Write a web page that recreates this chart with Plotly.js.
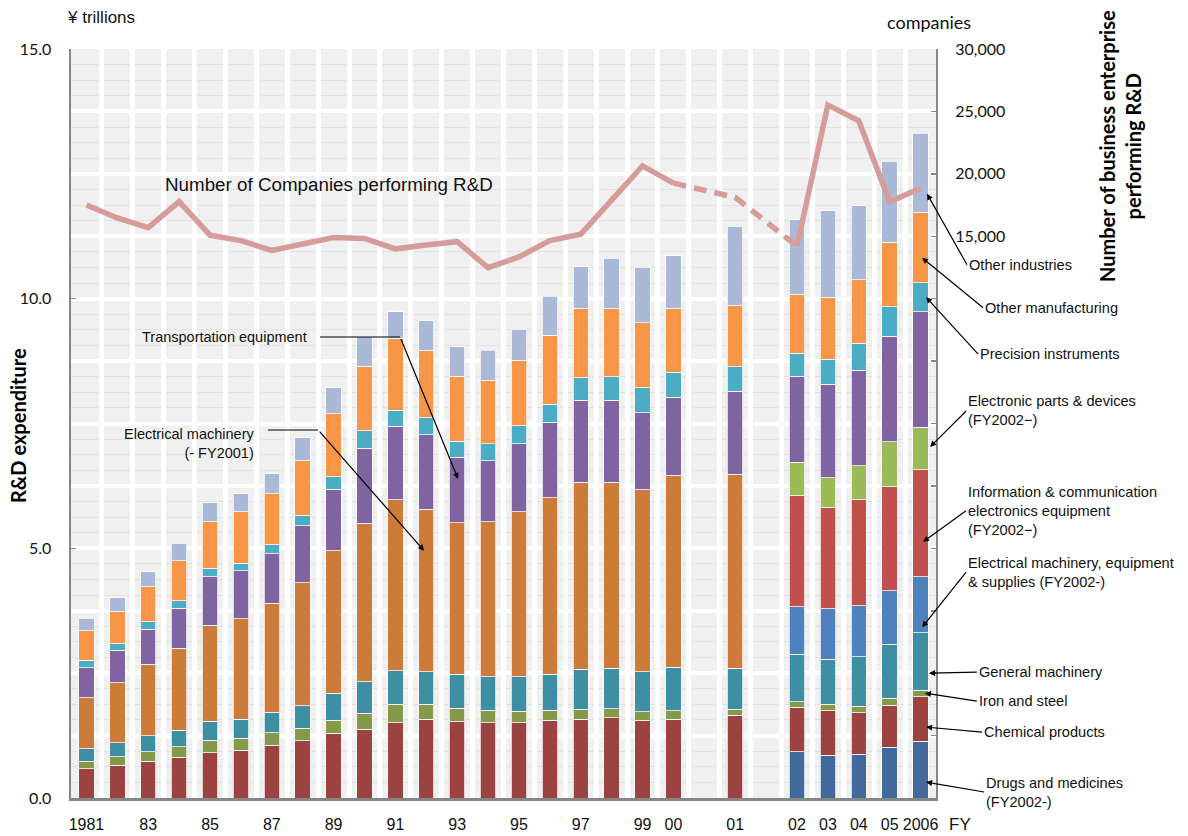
<!DOCTYPE html>
<html>
<head>
<meta charset="utf-8">
<script src="https://cdn.plot.ly/plotly-3.0.1.min.js"></script>
<style>html,body{margin:0;padding:0;background:#fff;}#chart{width:1188px;height:836px;}</style>
</head>
<body>
<div id="chart"></div>
<script>
// ---- categories (x axis), including two empty gap slots ----
const categories = ['1981','1982','1983','1984','1985','1986','1987','1988','1989','1990',
  '1991','1992','1993','1994','1995','1996','1997','1998','1999','2000','gapA','2001','gapB',
  '2002','2003','2004','2005','2006'];
const tickLabels = ['1981','','83','','85','','87','','89','','91','','93','','95','','97','','99','00',
  '','01','','02','03','04','05','2006'];
const years = ['1981','1982','1983','1984','1985','1986','1987','1988','1989','1990',
  '1991','1992','1993','1994','1995','1996','1997','1998','1999','2000','2001',
  '2002','2003','2004','2005','2006'];

// ---- R&D expenditure by industry (¥ trillions) ----
const N = null;
const drugs      = [N,N,N,N,N,N,N,N,N,N,N,N,N,N,N,N,N,N,N,N,N, 0.93,0.86,0.88,1.02,1.14];
const chemical   = [0.59,0.66,0.74,0.82,0.91,0.96,1.06,1.15,1.30,1.38,1.51,1.58,1.53,1.51,1.51,1.56,1.58,1.61,1.56,1.58,1.66, 0.89,0.89,0.83,0.84,0.89];
const ironSteel  = [0.15,0.17,0.19,0.21,0.25,0.24,0.25,0.25,0.26,0.32,0.37,0.30,0.27,0.25,0.23,0.20,0.20,0.18,0.17,0.17,0.12, 0.11,0.13,0.13,0.14,0.13];
const generalMach= [0.25,0.28,0.32,0.33,0.38,0.38,0.41,0.45,0.54,0.63,0.67,0.65,0.68,0.67,0.69,0.72,0.80,0.81,0.80,0.87,0.82, 0.95,0.90,0.99,1.08,1.15];
const elecOld    = [1.02,1.20,1.43,1.64,1.92,2.01,2.18,2.46,2.85,3.17,3.42,3.25,3.03,3.10,3.30,3.53,3.74,3.72,3.64,3.84,3.88, N,N,N,N,N];
const elecNew    = [N,N,N,N,N,N,N,N,N,N,N,N,N,N,N,N,N,N,N,N,N, 0.95,1.01,1.02,1.07,1.12];
const infoComm   = [N,N,N,N,N,N,N,N,N,N,N,N,N,N,N,N,N,N,N,N,N, 2.22,2.03,2.12,2.08,2.14];
const elecParts  = [N,N,N,N,N,N,N,N,N,N,N,N,N,N,N,N,N,N,N,N,N, 0.67,0.59,0.68,0.90,0.85];
const transport  = [0.60,0.65,0.70,0.80,0.97,0.96,0.99,1.14,1.23,1.50,1.48,1.49,1.31,1.22,1.36,1.52,1.65,1.65,1.55,1.57,1.67, 1.73,1.88,1.92,2.12,2.32];
const precision  = [0.15,0.13,0.15,0.15,0.17,0.15,0.18,0.20,0.25,0.35,0.32,0.35,0.32,0.34,0.37,0.36,0.45,0.47,0.50,0.50,0.49, 0.46,0.50,0.54,0.59,0.58];
const otherMfg   = [0.59,0.65,0.70,0.80,0.93,1.03,1.02,1.10,1.27,1.30,1.44,1.35,1.31,1.28,1.31,1.38,1.39,1.37,1.30,1.28,1.23, 1.18,1.24,1.27,1.29,1.41];
const otherInd   = [0.25,0.27,0.30,0.35,0.38,0.36,0.40,0.46,0.52,0.59,0.53,0.59,0.59,0.60,0.62,0.78,0.83,1.00,1.11,1.05,1.58, 1.49,1.73,1.48,1.62,1.58];

// ---- Number of companies performing R&D ----
const companies = [17508,16466,15688,17772,15088,14647,13862,14383,14904,14824,13991,14303,14567,12484,13342,14647,15168,17900,20633,19254,18117,14214,25513,24255,17764,18838];
// years where the line is drawn dashed (method change)
const dashedYears = ['2000','2001','2002'];

const seriesNames = ['Drugs and medicines (FY2002-)','Chemical products','Iron and steel','General machinery',
  'Electrical machinery (- FY2001)','Electrical machinery, equipment & supplies (FY2002-)',
  'Information & communication electronics equipment (FY2002−)','Electronic parts & devices (FY2002−)',
  'Transportation equipment','Precision instruments','Other manufacturing','Other industries'];
const seriesValues = [drugs,chemical,ironSteel,generalMach,elecOld,elecNew,infoComm,elecParts,transport,precision,otherMfg,otherInd];
const seriesColors = ['#41699b','#9c4241','#84994a','#3e8ea4','#cc7b38','#4f81bd','#c0504d','#9bbb59','#8064a2','#4bacc6','#f79646','#aab9d7'];

const NARROW = '"Liberation Sans Narrow","Arial Narrow","Liberation Sans",Arial,sans-serif';
const CAL = 'Lato, "Open Sans", sans-serif';

const traces = seriesValues.map((vals, i) => ({
  type: 'bar', name: seriesNames[i], x: years, y: vals,
  marker: {color: seriesColors[i], line: {color: 'rgba(255,255,255,0.75)', width: 1}},
  xaxis: 'x', yaxis: 'y', hoverinfo: 'x+y+name'
}));

// solid line: break at 2001
const solidY = years.map((yr, i) => dashedYears.indexOf(yr) === 1 ? null : companies[i]);
traces.push({type: 'scatter', mode: 'lines', x: years, y: solidY, xaxis: 'x', yaxis: 'y2',
  line: {color: '#d59c9a', width: 5.5}, connectgaps: false, name: 'Number of Companies performing R&D'});
traces.push({type: 'scatter', mode: 'lines', x: dashedYears,
  y: dashedYears.map(yr => companies[years.indexOf(yr)]), xaxis: 'x', yaxis: 'y2',
  line: {color: '#d59c9a', width: 5.5, dash: '13px,8px'}, name: 'companies (dashed)'});

// right-axis ticks
const rightVals = [], rightText = [];
for (let v = -30000; v <= 30000; v += 5000) {
  rightVals.push(v);
  rightText.push(v >= 15000 ? v.toLocaleString('en-US') : '');
}

// annotations on right pointing to FY2006 bar
const arrowCommon = {xref: 'x', yref: 'y', showarrow: true, arrowhead: 2, arrowsize: 1, arrowwidth: 1.2,
  arrowcolor: '#000', xanchor: 'left', align: 'left', font: {family: NARROW, size: 14.6, color: '#111'}};
const rightNotes = [
  ['Other industries', 27.21, 12.10, 40, 71],
  ['Other manufacturing', 27.05, 10.82, 61, 50],
  ['Precision instruments', 27.18, 10.03, 52, 57],
  ['Electronic parts & devices<br>(FY2002−)', 27.31, 7.03, 36, -36],
  ['Information & communication<br>electronics equipment<br>(FY2002−)', 27.08, 5.13, 43, -31],
  ['Electrical machinery, equipment<br>& supplies (FY2002-)', 27.05, 3.42, 44, -55],
  ['General machinery', 27.27, 2.50, 48, -1],
  ['Iron and steel', 27.14, 2.10, 52, 8],
  ['Chemical products', 27.18, 1.42, 56, 5],
  ['Drugs and medicines<br>(FY2002-)', 27.18, 0.32, 58, 10]
];
const annotations = rightNotes.map(n => Object.assign({}, arrowCommon, {text: n[0], x: n[1], y: n[2], ax: n[3], ay: n[4]}));

const px = p => (p - 71) / 865;   // page x -> paper
const py = p => (798 - p) / 749;  // page y -> paper
annotations.push(
  {xref: 'paper', yref: 'paper', x: px(140), y: py(337), xanchor: 'left', yanchor: 'middle', showarrow: false,
   text: 'Transportation equipment', font: {family: NARROW, size: 14.5, color: '#111'}},
  {xref: 'paper', yref: 'paper', x: px(256), y: py(443), xanchor: 'right', yanchor: 'middle', showarrow: false, align: 'right',
   text: 'Electrical machinery<br>(- FY2001)', font: {family: NARROW, size: 14.5, color: '#111'}},
  {xref: 'x', yref: 'y', x: 12.03, y: 6.39, ax: -58, ay: -142, text: ' ', font: {size: 1},
   showarrow: true, arrowhead: 2, arrowsize: 1, arrowwidth: 1.2, arrowcolor: '#000'},
  {xref: 'x', yref: 'y', x: 10.93, y: 4.95, ax: -106, ay: -121, text: ' ', font: {size: 1},
   showarrow: true, arrowhead: 2, arrowsize: 1, arrowwidth: 1.2, arrowcolor: '#000'},
  {xref: 'paper', yref: 'paper', x: px(163), y: py(185), xanchor: 'left', yanchor: 'middle', showarrow: false,
   text: 'Number of Companies performing R&D', font: {family: NARROW, size: 18.8, color: '#111'}},
  {xref: 'paper', yref: 'paper', x: px(65), y: py(18), xanchor: 'left', yanchor: 'middle', showarrow: false,
   text: '¥ trillions', font: {family: NARROW, size: 17, color: '#111'}},
  {xref: 'paper', yref: 'paper', x: px(929), y: py(22), xanchor: 'center', yanchor: 'middle', showarrow: false,
   text: 'companies', font: {family: CAL, size: 18, color: '#111'}},
  {xref: 'paper', yref: 'paper', x: px(947), y: py(824), xanchor: 'left', yanchor: 'middle', showarrow: false,
   text: 'FY', font: {family: NARROW, size: 17, color: '#111'}},
  {xref: 'paper', yref: 'paper', x: px(18), y: py(426), xanchor: 'center', yanchor: 'middle', showarrow: false,
   textangle: -90, text: '<b>R&D expenditure</b>', font: {family: CAL, size: 20, color: '#000'}},
  {xref: 'paper', yref: 'paper', x: px(1120), y: py(146), xanchor: 'center', yanchor: 'middle', showarrow: false,
   textangle: -90, text: '<b>Number of business enterprise<br>performing R&D</b>', font: {family: CAL, size: 20, color: '#000'}}
);

const shapes = [
  {type: 'line', xref: 'paper', yref: 'paper', x0: px(320), x1: px(400), y0: py(337), y1: py(337), line: {color: '#000', width: 1.2}},
  {type: 'line', xref: 'paper', yref: 'paper', x0: px(268), x1: px(318), y0: py(430), y1: py(430), line: {color: '#000', width: 1.2}}
];

const layout = {
  width: 1188, height: 836,
  margin: {l: 71, r: 252, t: 49, b: 38, pad: 0},
  paper_bgcolor: '#ffffff', plot_bgcolor: '#f0f0f0',
  barmode: 'stack', bargap: 0.5, showlegend: false,
  font: {family: CAL, color: '#000'},
  xaxis: {type: 'category', categoryorder: 'array', categoryarray: categories,
    tickmode: 'array', tickvals: categories, ticktext: tickLabels, tickson: 'boundaries', tickangle: 0,
    range: [-0.5, 27.5], showgrid: true, gridcolor: '#ffffff', gridwidth: 5,
    ticks: '', showline: true, linecolor: '#868686', linewidth: 2.5,
    tickfont: {family: NARROW, size: 16, color: '#111'}, ticklabelstandoff: 10, fixedrange: true},
  yaxis: {range: [0, 15], tickmode: 'array', tickvals: [0, 5, 10, 15], ticktext: ['0.0', '5.0', '10.0', '15.0'],
    showgrid: false, zeroline: false, showline: true, linecolor: '#868686', linewidth: 2.5,
    ticks: 'inside', ticklen: 5, tickcolor: '#868686', tickwidth: 1.5,
    tickfont: {family: CAL, size: 16, color: '#111'}, ticklabelstandoff: 14},
  yaxis2: {overlaying: 'y', side: 'right', range: [-30000, 30000], tickmode: 'array', tickvals: rightVals, ticktext: rightText,
    showgrid: true, gridcolor: '#ffffff', gridwidth: 4, zeroline: false,
    minor: {tickmode: 'linear', tick0: 0, dtick: 1250, showgrid: true, gridcolor: '#e2e2e2', gridwidth: 1, ticks: ''},
    showline: true, linecolor: '#868686', linewidth: 2, ticks: 'inside', ticklen: 5, tickcolor: '#868686', tickwidth: 1.5,
    tickfont: {family: CAL, size: 16, color: '#111'}, ticklabelstandoff: 14},
  annotations: annotations, shapes: shapes
};

Plotly.newPlot('chart', traces, layout, {displayModeBar: false, staticPlot: true});
</script>
</body>
</html>
